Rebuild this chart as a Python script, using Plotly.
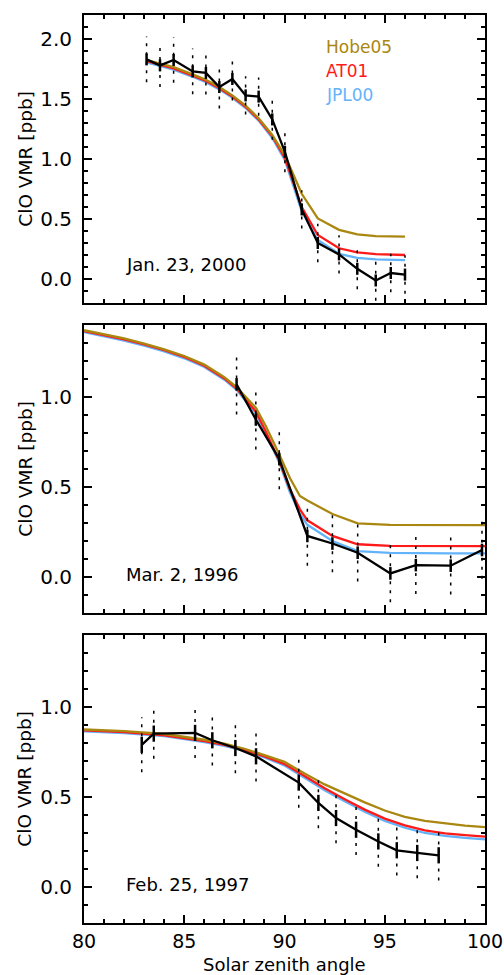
import plotly.graph_objects as go

# ---------------- data ----------------
# Panel 1: Jan. 23, 2000
p1_sza = [83.12, 83.79, 84.47, 85.42, 86.08, 86.75, 87.40, 88.06, 88.71, 89.39,
          90.02, 90.86, 91.66, 92.72, 93.63, 94.55, 95.30, 96.01]
p1_clo = [1.83, 1.78, 1.825, 1.73, 1.717, 1.60, 1.667, 1.53, 1.52, 1.33,
          1.06, 0.58, 0.30, 0.205, 0.085, -0.012, 0.05, 0.037]
p1_err_meas = [0.05, 0.05, 0.05, 0.05, 0.05, 0.05, 0.05, 0.05, 0.05, 0.05,
               0.05, 0.05, 0.05, 0.05, 0.05, 0.05, 0.05, 0.05]
p1_err_tot = [0.19, 0.18, 0.19, 0.19, 0.18, 0.18, 0.18, 0.16, 0.16, 0.17,
              0.17, 0.16, 0.16, 0.16, 0.17, 0.17, 0.16, 0.16]
p1_hobe05 = [1.825, 1.795, 1.765, 1.705, 1.66, 1.60, 1.53, 1.445, 1.34, 1.20,
             1.03, 0.71, 0.505, 0.41, 0.372, 0.358, 0.354, 0.353]
p1_at01 = [1.815, 1.785, 1.755, 1.695, 1.65, 1.59, 1.52, 1.435, 1.33, 1.19,
           1.01, 0.60, 0.367, 0.256, 0.222, 0.208, 0.203, 0.20]
p1_jpl00 = [1.805, 1.775, 1.745, 1.685, 1.64, 1.58, 1.51, 1.425, 1.32, 1.175,
            0.99, 0.565, 0.325, 0.21, 0.176, 0.163, 0.159, 0.157]

# Panel 2: Mar. 2, 1996
p2_sza = [87.61, 88.57, 89.74, 91.14, 92.39, 93.65, 95.28, 96.55, 98.29, 99.85]
p2_clo = [1.07, 0.875, 0.655, 0.228, 0.186, 0.135, 0.02, 0.066, 0.063, 0.15]
p2_err_meas = [0.035, 0.035, 0.035, 0.035, 0.035, 0.035, 0.035, 0.035, 0.035, 0.035]
p2_err_tot = [0.167, 0.167, 0.167, 0.165, 0.16, 0.16, 0.16, 0.16, 0.16, 0.16]
p2_model_sza = [80, 81, 82, 83, 84, 85, 86, 87, 87.61, 88.57, 89.06, 89.74, 90.27,
                90.77, 91.14, 92.39, 93.65, 95.26, 96.56, 98.29, 100]
p2_hobe05 = [1.371, 1.35, 1.325, 1.297, 1.265, 1.228, 1.18, 1.11, 1.055, 0.94, 0.84,
             0.68, 0.55, 0.45, 0.425, 0.35, 0.298, 0.29, 0.289, 0.288, 0.288]
p2_at01 = [1.366, 1.345, 1.32, 1.292, 1.26, 1.222, 1.174, 1.103, 1.047, 0.92, 0.81,
           0.645, 0.487, 0.376, 0.315, 0.228, 0.182, 0.173, 0.172, 0.172, 0.172]
p2_jpl00 = [1.36, 1.338, 1.313, 1.285, 1.253, 1.215, 1.167, 1.096, 1.04, 0.91, 0.80,
            0.635, 0.47, 0.35, 0.29, 0.20, 0.144, 0.134, 0.132, 0.131, 0.131]

# Panel 3: Feb. 25, 1997
p3_sza = [82.88, 83.48, 85.54, 86.40, 87.55, 88.58, 90.71, 91.69, 92.57, 93.57,
          94.68, 95.60, 96.62, 97.69]
p3_clo = [0.79, 0.852, 0.856, 0.815, 0.772, 0.726, 0.58, 0.467, 0.383, 0.318,
          0.253, 0.204, 0.189, 0.176]
p3_err_meas = [0.045, 0.045, 0.045, 0.045, 0.045, 0.045, 0.045, 0.045, 0.045, 0.045,
               0.045, 0.045, 0.045, 0.045]
p3_err_tot = [0.153, 0.14, 0.14, 0.14, 0.14, 0.14, 0.14, 0.14, 0.14, 0.14,
              0.14, 0.14, 0.14, 0.14]
p3_model_sza = [80, 82, 84, 86, 87, 88, 89, 90, 91, 92, 93, 94, 95, 96, 97, 98, 99, 100]
p3_hobe05 = [0.875, 0.866, 0.85, 0.818, 0.797, 0.768, 0.733, 0.695, 0.63, 0.57, 0.52,
             0.47, 0.425, 0.39, 0.367, 0.352, 0.341, 0.333]
p3_at01 = [0.87, 0.86, 0.843, 0.81, 0.789, 0.761, 0.726, 0.683, 0.617, 0.548, 0.488,
           0.43, 0.38, 0.342, 0.314, 0.298, 0.288, 0.28]
p3_jpl00 = [0.865, 0.855, 0.838, 0.805, 0.784, 0.756, 0.72, 0.675, 0.607, 0.537, 0.476,
            0.418, 0.367, 0.329, 0.3, 0.284, 0.273, 0.265]

panel_labels = ["Jan. 23, 2000", "Mar. 2, 1996", "Feb. 25, 1997"]
legend_names = ["Hobe05", "AT01", "JPL00"]
x_title = "Solar zenith angle"
y_title = "ClO VMR [ppb]"

# ---------------- style ----------------
C_HOBE = "#AA8710"
C_AT = "#FF1A1A"
C_JPL = "#63B3FA"
FONT = "DejaVu Sans"

fig = go.Figure()

panels = [
    ("x", "y", p1_sza, p1_clo, p1_err_meas, p1_err_tot, p1_sza, p1_hobe05, p1_at01, p1_jpl00),
    ("x2", "y2", p2_sza, p2_clo, p2_err_meas, p2_err_tot, p2_model_sza, p2_hobe05, p2_at01, p2_jpl00),
    ("x3", "y3", p3_sza, p3_clo, p3_err_meas, p3_err_tot, p3_model_sza, p3_hobe05, p3_at01, p3_jpl00),
]

for xa, ya, sza, clo, em, et, msza, hobe, at, jpl in panels:
    # model curves
    for vals, col in ((jpl, C_JPL), (at, C_AT), (hobe, C_HOBE)):
        fig.add_trace(go.Scatter(x=msza, y=vals, mode="lines", xaxis=xa, yaxis=ya,
                                 line=dict(color=col, width=2.3), showlegend=False,
                                 hoverinfo="skip"))
    # dotted total error bars
    dx, dy = [], []
    for xv, yv, ev in zip(sza, clo, et):
        dx += [xv, xv, None]
        dy += [yv - ev, yv + ev, None]
    fig.add_trace(go.Scatter(x=dx, y=dy, mode="lines", xaxis=xa, yaxis=ya,
                             line=dict(color="black", width=1.5, dash="3px,6px"),
                             showlegend=False, hoverinfo="skip"))
    # measurement
    fig.add_trace(go.Scatter(x=sza, y=clo, mode="lines", xaxis=xa, yaxis=ya,
                             line=dict(color="black", width=2.3),
                             error_y=dict(type="data", array=em, visible=True,
                                          color="black", thickness=2.5, width=0),
                             showlegend=False))

# ---------------- axes ----------------
domains = [[0.6828, 1.0], [0.3414, 0.6586], [0.0, 0.3172]]
yranges = [[-0.2, 2.2], [-0.2, 1.4], [-0.2, 1.4]]
yticks = [[0.0, 0.5, 1.0, 1.5, 2.0], [0.0, 0.5, 1.0], [0.0, 0.5, 1.0]]

axis_common = dict(showline=True, linecolor="black", linewidth=2, mirror="ticks",
                   ticks="inside", ticklen=8, tickwidth=1.8, tickcolor="black",
                   showgrid=False, zeroline=False, automargin=False,
                   tickfont=dict(family=FONT, size=20, color="black"))

layout = dict(width=504, height=975, paper_bgcolor="white", plot_bgcolor="white",
              margin=dict(l=84, r=19, t=15, b=52), showlegend=False)

for i in range(3):
    sfx = "" if i == 0 else str(i + 1)
    xa = dict(axis_common)
    xa.update(domain=[0, 1], anchor="y" + sfx, range=[80, 100], dtick=5, tick0=80,
              minor=dict(dtick=1, ticklen=4, tickwidth=1.5, tickcolor="black", ticks="inside"),
              showticklabels=(i == 2), ticklabeloverflow="allow", ticklabelstandoff=0)
    if i == 2:
        xa.update(tickfont=dict(family=FONT, size=19, color="black"))
    else:
        xa.update(matches="x3")
    ya = dict(axis_common)
    ya.update(domain=domains[i], anchor="x" + sfx, range=yranges[i],
              tickvals=yticks[i], tickformat=".1f",
              minor=dict(dtick=0.1, tick0=0, ticklen=4, tickwidth=1.5, tickcolor="black", ticks="inside"),
              ticklabelstandoff=6)
    layout["xaxis" + sfx] = xa
    layout["yaxis" + sfx] = ya

fig.update_layout(**layout)

# axis titles
fig.add_annotation(x=0.5, y=-0.0455, xref="paper", yref="paper", text=x_title,
                   showarrow=False, xanchor="center", yanchor="middle",
                   font=dict(family=FONT, size=18, color="black"))
for i in range(3):
    sfx = "" if i == 0 else str(i + 1)
    fig.add_annotation(x=-0.148, y=0.5, xref="paper", yref="y" + sfx + " domain",
                       text=y_title, textangle=-90, showarrow=False,
                       xanchor="center", yanchor="middle",
                       font=dict(family=FONT, size=18.5, color="black"))

# ---------------- annotations ----------------
label_pos = [0.125, 0.016, 0.014]
for i, (txt, yv) in enumerate(zip(panel_labels, label_pos)):
    sfx = "" if i == 0 else str(i + 1)
    fig.add_annotation(x=82.0, y=yv, xref="x" + sfx, yref="y" + sfx, text=txt,
                       showarrow=False, xanchor="left", yanchor="middle",
                       font=dict(family=FONT, size=18, color="black"))

legend_y = [1.93, 1.735, 1.535]
for name, yv, col in zip(legend_names, legend_y, (C_HOBE, C_AT, C_JPL)):
    fig.add_annotation(x=91.97, y=yv, xref="x", yref="y", text=name, showarrow=False,
                       xanchor="left", yanchor="middle",
                       font=dict(family=FONT, size=17, color=col))

fig.write_html("out.html")
